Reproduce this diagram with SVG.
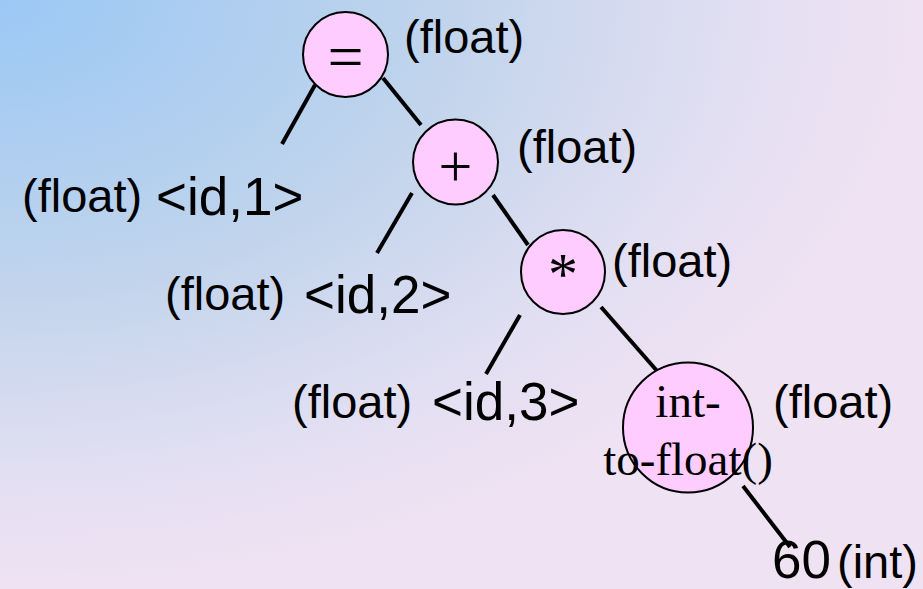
<svg xmlns="http://www.w3.org/2000/svg" width="923" height="589" viewBox="0 0 923 589">
<defs>
<radialGradient id="bg" cx="0" cy="0" r="1" fx="0" fy="0">
<stop offset="0" stop-color="#9bc8f5"/>
<stop offset="0.48" stop-color="#c0d4ec"/>
<stop offset="0.8" stop-color="#e2dff2"/>
<stop offset="1" stop-color="#efe2f3"/>
</radialGradient>
<style>
.n{fill:#ffccff;stroke:#000;stroke-width:2}
.op{font-family:"Liberation Serif","Times New Roman",serif;fill:#000;text-anchor:middle}
.t{font-family:"Liberation Sans",Arial,sans-serif;fill:#000;font-size:47px}
.id{font-family:"Liberation Sans",Arial,sans-serif;fill:#000;font-size:53px}
.e{stroke:#000;stroke-width:4;fill:none}
</style>
</defs>
<rect width="923" height="589" fill="url(#bg)"/>
<g id="connectors">
<line class="e" x1="315" y1="85" x2="282" y2="144"/>
<line class="e" x1="383" y1="78" x2="421" y2="125"/>
<line class="e" x1="412" y1="193" x2="377" y2="253"/>
<line class="e" x1="493" y1="195" x2="528" y2="245"/>
<line class="e" x1="520" y1="315" x2="486" y2="374"/>
<line class="e" x1="601" y1="307" x2="658" y2="372"/>
<line class="e" x1="743" y1="486" x2="790" y2="547"/>
</g>
<g id="n-assign">
<circle class="n" cx="345.5" cy="54.5" r="42.5"/>
<text class="op" x="345.5" y="78" font-size="64">=</text>
<text class="t" x="404" y="53">(float)</text>
</g>
<g id="n-plus">
<circle class="n" cx="455.5" cy="162" r="42.5"/>
<text class="op" x="455.5" y="186" font-size="60">+</text>
<text class="t" x="517" y="163">(float)</text>
</g>
<g id="n-id1">
<text class="t" x="22" y="212">(float)</text>
<text class="id" x="156" y="215">&lt;id,1&gt;</text>
</g>
<g id="n-id2">
<text class="t" x="165" y="310">(float)</text>
<text class="id" x="304" y="313">&lt;id,2&gt;</text>
</g>
<g id="n-mul">
<circle class="n" cx="563" cy="272" r="42"/>
<text class="op" x="563" y="294" font-size="60">*</text>
<text class="t" x="612" y="277">(float)</text>
</g>
<g id="n-id3">
<text class="t" x="292" y="418">(float)</text>
<text class="id" x="432" y="420">&lt;id,3&gt;</text>
</g>
<g id="n-conv">
<circle class="n" cx="688" cy="427.5" r="65"/>
<text class="op" x="688" y="417" font-size="47">int-</text>
<text class="op" x="688" y="475" font-size="47">to-float()</text>
<text class="t" x="773" y="418">(float)</text>
</g>
<g id="n-60">
<text class="id" x="772" y="578">60</text>
<text class="t" x="837" y="578">(int)</text>
</g>
</svg>
